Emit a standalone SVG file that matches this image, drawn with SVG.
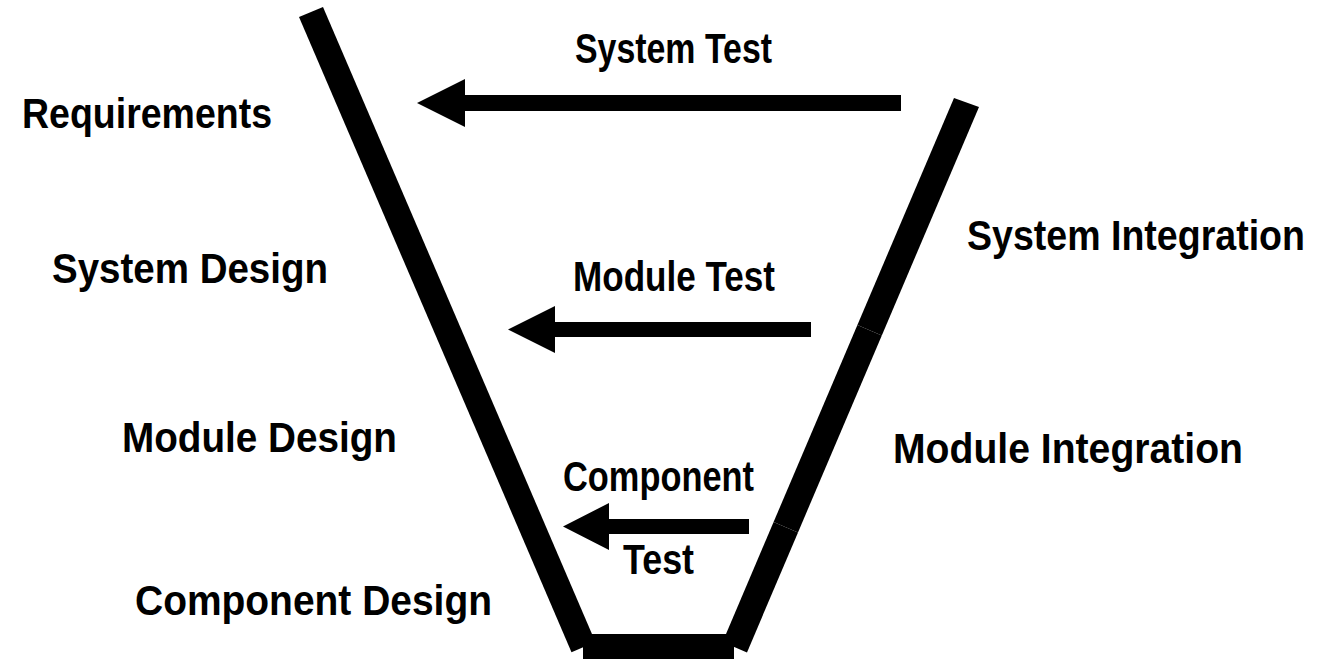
<svg xmlns="http://www.w3.org/2000/svg" width="1323" height="659" viewBox="0 0 1323 659">
  <style>
    .lbl { font-family: "Liberation Sans", Arial, sans-serif; font-weight: bold; font-size: 42px; fill: #000; }
    .bar { fill: #000; }
    .arrow { fill: #000; }
  </style>
  <rect width="1323" height="659" fill="#fff"/>

  <!-- V-model frame: descending (design) leg, base, ascending (integration) leg -->
  <g id="v-frame">
    <polygon class="bar" points="299,17 323,7 595.4,642 571.5,652.2"/>
    <rect class="bar" x="583" y="634" width="151" height="30"/>
    <polygon class="bar" points="954,98 979,107 881.8,335.4 857.4,325"/>
    <polygon class="bar" points="857.4,325 881.8,335.4 798,532.4 773.6,522"/>
    <polygon class="bar" points="773.6,522 798,532.4 747,652.4 722.6,642"/>
  </g>

  <!-- design phases -->
  <g id="requirements"><text class="lbl" x="22" y="128" textLength="250" lengthAdjust="spacingAndGlyphs">Requirements</text></g>
  <g id="system-design"><text class="lbl" x="52" y="283" textLength="276" lengthAdjust="spacingAndGlyphs">System Design</text></g>
  <g id="module-design"><text class="lbl" x="122" y="452" textLength="275" lengthAdjust="spacingAndGlyphs">Module Design</text></g>
  <g id="component-design"><text class="lbl" x="135" y="615" textLength="357" lengthAdjust="spacingAndGlyphs">Component Design</text></g>

  <!-- integration phases -->
  <g id="system-integration"><text class="lbl" transform="translate(967,250) scale(0.894,1)" x="0" y="0">System Integration</text></g>
  <g id="module-integration"><text class="lbl" x="893" y="463" textLength="350" lengthAdjust="spacingAndGlyphs">Module Integration</text></g>

  <!-- test labels -->
  <g id="system-test"><text class="lbl" x="575" y="63" textLength="197" lengthAdjust="spacingAndGlyphs">System Test</text></g>
  <g id="module-test"><text class="lbl" x="573" y="291" textLength="202" lengthAdjust="spacingAndGlyphs">Module Test</text></g>
  <g id="component-test">
    <text class="lbl" x="563" y="491" textLength="191" lengthAdjust="spacingAndGlyphs">Component</text>
    <text class="lbl" x="623" y="574" textLength="71" lengthAdjust="spacingAndGlyphs">Test</text>
  </g>

  <!-- verification arrows pointing back to the design side -->
  <g id="connectors">
    <path class="arrow" d="M901,95 H465 V79 L417,103 L465,127 V111 H901 Z"/>
    <path class="arrow" d="M811,322 H555 V306 L508,329.5 L555,353 V337 H811 Z"/>
    <path class="arrow" d="M749,519 H609 V503 L563,526.5 L609,550 V534 H749 Z"/>
  </g>
</svg>
